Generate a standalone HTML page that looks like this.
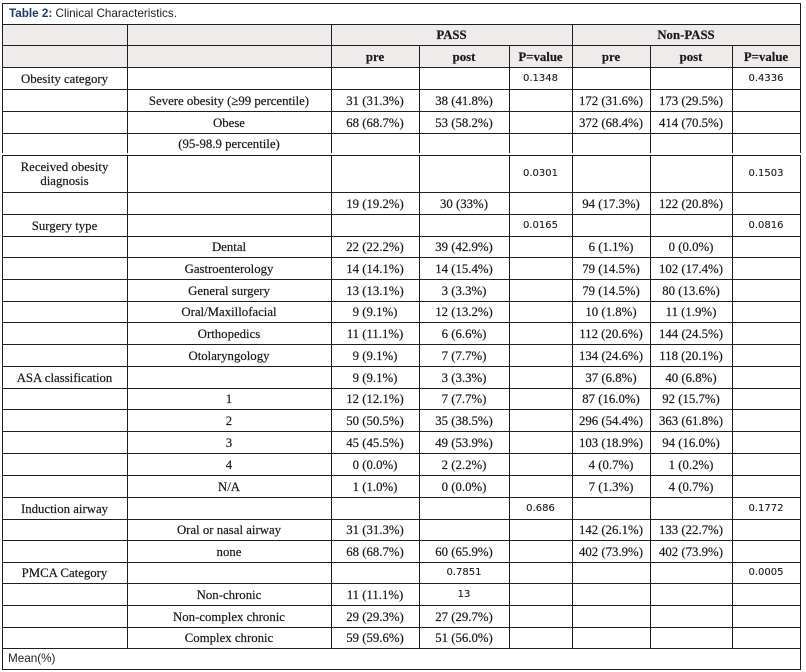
<!DOCTYPE html>
<html><head><meta charset="utf-8">
<style>
html,body{margin:0;padding:0;background:#fff;}
#w{position:relative;width:806px;height:672px;overflow:hidden;background:#fff;}
.h{position:absolute;left:2px;width:799px;height:1px;background:#1e1e1e;}
.v{position:absolute;width:1px;background:#1e1e1e;}
.r{position:absolute;left:0;width:806px;}
.c{position:absolute;top:0;height:100%;display:flex;align-items:center;justify-content:center;text-align:center;font-family:"Liberation Serif",serif;font-size:12.8px;color:#1a1a1a;line-height:14px;white-space:nowrap;-webkit-text-stroke:0.2px #1a1a1a;padding-top:1px;box-sizing:border-box;}
.n{font-family:"DejaVu Sans",sans-serif;font-size:10px;-webkit-text-stroke:0.1px #1a1a1a;}
.b{font-weight:bold;}
.k1{left:2px;width:125px}.k2{left:127px;width:204px}.k3{left:331px;width:88px}.k4{left:419px;width:90px}
.k5{left:509px;width:63px}.k6{left:572px;width:78px}.k7{left:650px;width:82px}.k8{left:732px;width:68px}
.bg{position:absolute;left:2px;top:24px;width:798px;height:43px;background:#efebea;}
</style></head><body><div id="w">
<div class="bg"></div>
<div class="h" style="top:3px"></div><div class="h" style="top:24px"></div><div class="h" style="top:45px"></div>
<div class="h" style="top:67px"></div><div class="h" style="top:89px"></div><div class="h" style="top:111px"></div>
<div class="h" style="top:133px"></div>
<div class="h" style="top:155px"></div><div class="h" style="top:192px"></div><div class="h" style="top:214px"></div>
<div class="h" style="top:236px"></div><div class="h" style="top:257px"></div><div class="h" style="top:279px"></div>
<div class="h" style="top:301px"></div><div class="h" style="top:322px"></div><div class="h" style="top:344px"></div>
<div class="h" style="top:366px"></div><div class="h" style="top:388px"></div><div class="h" style="top:409px"></div>
<div class="h" style="top:431px"></div><div class="h" style="top:453px"></div><div class="h" style="top:475px"></div>
<div class="h" style="top:497px"></div><div class="h" style="top:519px"></div><div class="h" style="top:540px"></div>
<div class="h" style="top:562px"></div><div class="h" style="top:583px"></div><div class="h" style="top:605px"></div>
<div class="h" style="top:627px"></div><div class="h" style="top:648px"></div><div class="h" style="top:669px"></div>
<div class="v" style="left:2px;top:3px;height:150px"></div><div class="v" style="left:2px;top:155px;height:515px"></div>
<div class="v" style="left:800px;top:3px;height:150px"></div><div class="v" style="left:800px;top:155px;height:515px"></div>
<div class="v" style="left:127px;top:24px;height:129px"></div><div class="v" style="left:127px;top:155px;height:493px"></div>
<div class="v" style="left:331px;top:24px;height:129px"></div><div class="v" style="left:331px;top:155px;height:493px"></div>
<div class="v" style="left:572px;top:24px;height:129px"></div><div class="v" style="left:572px;top:155px;height:493px"></div>
<div class="v" style="left:419px;top:45px;height:108px"></div><div class="v" style="left:419px;top:155px;height:493px"></div>
<div class="v" style="left:509px;top:45px;height:108px"></div><div class="v" style="left:509px;top:155px;height:493px"></div>
<div class="v" style="left:650px;top:45px;height:108px"></div><div class="v" style="left:650px;top:155px;height:493px"></div>
<div class="v" style="left:732px;top:45px;height:108px"></div><div class="v" style="left:732px;top:155px;height:493px"></div>

<div style="position:absolute;left:9px;top:3px;height:21px;display:flex;align-items:center;font-family:'Liberation Sans',sans-serif;font-size:11.7px;color:#222;white-space:nowrap;"><b style="color:#1d3c6e">Table 2:</b>&nbsp;Clinical Characteristics.</div>

<div class="r" style="top:24px;height:21px">
<div class="c b" style="left:331px;width:241px">PASS</div>
<div class="c b" style="left:572px;width:228px">Non-PASS</div>
</div>
<div class="r" style="top:45px;height:22px">
<div class="c b k3">pre</div><div class="c b k4">post</div><div class="c b k5">P=value</div>
<div class="c b k6">pre</div><div class="c b k7">post</div><div class="c b k8">P=value</div>
</div>

<div class="r" style="top:67px;height:22px">
<div class="c k1">Obesity category</div><div class="c n k5">0.1348</div><div class="c n k8">0.4336</div>
</div>
<div class="r" style="top:89px;height:22px">
<div class="c k2">Severe obesity (≥99 percentile)</div><div class="c k3">31 (31.3%)</div><div class="c k4">38 (41.8%)</div>
<div class="c k6">172 (31.6%)</div><div class="c k7">173 (29.5%)</div>
</div>
<div class="r" style="top:111px;height:22px">
<div class="c k2">Obese</div><div class="c k3">68 (68.7%)</div><div class="c k4">53 (58.2%)</div>
<div class="c k6">372 (68.4%)</div><div class="c k7">414 (70.5%)</div>
</div>
<div class="r" style="top:133px;height:20px">
<div class="c k2">(95-98.9 percentile)</div>
</div>

<div class="r" style="top:155px;height:37px">
<div class="c k1">Received obesity<br>diagnosis</div><div class="c n k5">0.0301</div><div class="c n k8">0.1503</div>
</div>
<div class="r" style="top:192px;height:22px">
<div class="c k3">19 (19.2%)</div><div class="c k4">30 (33%)</div>
<div class="c k6">94 (17.3%)</div><div class="c k7">122 (20.8%)</div>
</div>
<div class="r" style="top:214px;height:22px">
<div class="c k1">Surgery type</div><div class="c n k5">0.0165</div><div class="c n k8">0.0816</div>
</div>
<div class="r" style="top:236px;height:21px">
<div class="c k2">Dental</div><div class="c k3">22 (22.2%)</div><div class="c k4">39 (42.9%)</div>
<div class="c k6">6 (1.1%)</div><div class="c k7">0 (0.0%)</div>
</div>
<div class="r" style="top:257px;height:22px">
<div class="c k2">Gastroenterology</div><div class="c k3">14 (14.1%)</div><div class="c k4">14 (15.4%)</div>
<div class="c k6">79 (14.5%)</div><div class="c k7">102 (17.4%)</div>
</div>
<div class="r" style="top:279px;height:22px">
<div class="c k2">General surgery</div><div class="c k3">13 (13.1%)</div><div class="c k4">3 (3.3%)</div>
<div class="c k6">79 (14.5%)</div><div class="c k7">80 (13.6%)</div>
</div>
<div class="r" style="top:301px;height:21px">
<div class="c k2">Oral/Maxillofacial</div><div class="c k3">9 (9.1%)</div><div class="c k4">12 (13.2%)</div>
<div class="c k6">10 (1.8%)</div><div class="c k7">11 (1.9%)</div>
</div>
<div class="r" style="top:322px;height:22px">
<div class="c k2">Orthopedics</div><div class="c k3">11 (11.1%)</div><div class="c k4">6 (6.6%)</div>
<div class="c k6">112 (20.6%)</div><div class="c k7">144 (24.5%)</div>
</div>
<div class="r" style="top:344px;height:22px">
<div class="c k2">Otolaryngology</div><div class="c k3">9 (9.1%)</div><div class="c k4">7 (7.7%)</div>
<div class="c k6">134 (24.6%)</div><div class="c k7">118 (20.1%)</div>
</div>
<div class="r" style="top:366px;height:22px">
<div class="c k1">ASA classification</div><div class="c k3">9 (9.1%)</div><div class="c k4">3 (3.3%)</div>
<div class="c k6">37 (6.8%)</div><div class="c k7">40 (6.8%)</div>
</div>
<div class="r" style="top:388px;height:21px">
<div class="c k2">1</div><div class="c k3">12 (12.1%)</div><div class="c k4">7 (7.7%)</div>
<div class="c k6">87 (16.0%)</div><div class="c k7">92 (15.7%)</div>
</div>
<div class="r" style="top:409px;height:22px">
<div class="c k2">2</div><div class="c k3">50 (50.5%)</div><div class="c k4">35 (38.5%)</div>
<div class="c k6">296 (54.4%)</div><div class="c k7">363 (61.8%)</div>
</div>
<div class="r" style="top:431px;height:22px">
<div class="c k2">3</div><div class="c k3">45 (45.5%)</div><div class="c k4">49 (53.9%)</div>
<div class="c k6">103 (18.9%)</div><div class="c k7">94 (16.0%)</div>
</div>
<div class="r" style="top:453px;height:22px">
<div class="c k2">4</div><div class="c k3">0 (0.0%)</div><div class="c k4">2 (2.2%)</div>
<div class="c k6">4 (0.7%)</div><div class="c k7">1 (0.2%)</div>
</div>
<div class="r" style="top:475px;height:22px">
<div class="c k2">N/A</div><div class="c k3">1 (1.0%)</div><div class="c k4">0 (0.0%)</div>
<div class="c k6">7 (1.3%)</div><div class="c k7">4 (0.7%)</div>
</div>
<div class="r" style="top:497px;height:22px">
<div class="c k1">Induction airway</div><div class="c n k5">0.686</div><div class="c n k8">0.1772</div>
</div>
<div class="r" style="top:519px;height:21px">
<div class="c k2">Oral or nasal airway</div><div class="c k3">31 (31.3%)</div>
<div class="c k6">142 (26.1%)</div><div class="c k7">133 (22.7%)</div>
</div>
<div class="r" style="top:540px;height:22px">
<div class="c k2">none</div><div class="c k3">68 (68.7%)</div><div class="c k4">60 (65.9%)</div>
<div class="c k6">402 (73.9%)</div><div class="c k7">402 (73.9%)</div>
</div>
<div class="r" style="top:562px;height:21px">
<div class="c k1">PMCA Category</div><div class="c n k4">0.7851</div><div class="c n k8">0.0005</div>
</div>
<div class="r" style="top:583px;height:22px">
<div class="c k2">Non-chronic</div><div class="c k3">11 (11.1%)</div><div class="c n k4">13</div>
</div>
<div class="r" style="top:605px;height:22px">
<div class="c k2">Non-complex chronic</div><div class="c k3">29 (29.3%)</div><div class="c k4">27 (29.7%)</div>
</div>
<div class="r" style="top:627px;height:21px">
<div class="c k2">Complex chronic</div><div class="c k3">59 (59.6%)</div><div class="c k4">51 (56.0%)</div>
</div>
<div style="position:absolute;left:8px;top:648px;height:21px;display:flex;align-items:center;font-family:'Liberation Sans',sans-serif;font-size:11.7px;color:#222;">Mean(%)</div>
</div></body></html>
